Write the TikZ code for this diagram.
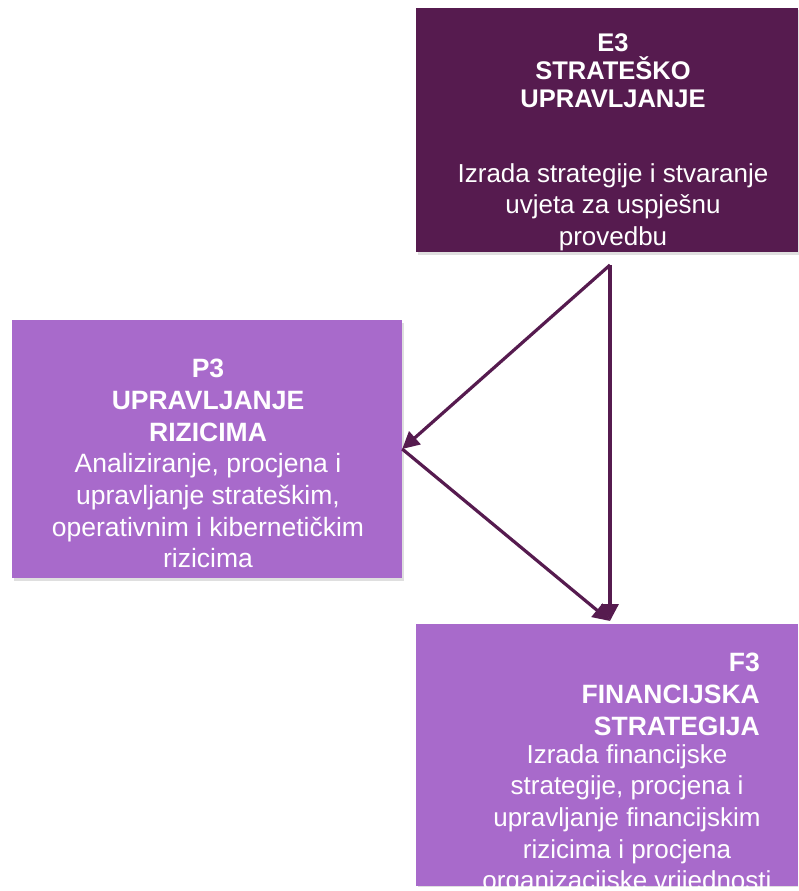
\documentclass[tikz,border=0pt]{standalone}
\usepackage{fontspec}
\setmainfont{Liberation Sans}
\usetikzlibrary{arrows.meta,shadows}
\definecolor{tamna}{HTML}{561B4F}
\definecolor{svijetla}{HTML}{A86ACB}

\begin{document}
\begin{tikzpicture}
      [ x=1pt, y=-1pt
      , box/.style={draw=none, inner sep=0pt,
          drop shadow={opacity=0.25, shadow xshift=1.5pt, shadow yshift=-2.5pt}}
      , strat/.style={box, fill=tamna}
      , proc/.style={box, fill=svijetla}
      , naslov/.style={text=white, inner sep=0pt, align=center,
          font=\fontsize{26.5}{32}\selectfont\bfseries}
      , opis/.style={text=white, inner sep=0pt, align=center,
          font=\fontsize{26}{31.7}\selectfont}
      , veza/.style={tamna, draw, line width=3.2pt,
          -{Triangle[length=17pt,width=17pt]}}
      ]
    \useasboundingbox (0,0) rectangle (798,891);

    \node[strat, minimum width=382pt, minimum height=244pt] (E3) at (607,130) {};
    \node[naslov, anchor=north, font=\fontsize{25.5}{28}\selectfont\bfseries]
      (E3naslov) at (613,33) {E3\\STRATEŠKO\\UPRAVLJANJE};
    \node[opis, anchor=north] (E3opis) at (613,163)
      {Izrada strategije i stvaranje\\uvjeta za uspješnu\\provedbu};

    \node[proc, minimum width=390pt, minimum height=258pt] (P3) at (207,449) {};
    \node[opis, anchor=north, font=\fontsize{26.5}{31.7}\selectfont]
      (P3opis) at (208,359)
      {\textbf{P3}\\\textbf{UPRAVLJANJE}\\\textbf{RIZICIMA}\\
       Analiziranje, procjena i\\upravljanje strateškim,\\
       operativnim i kibernetičkim\\rizicima};

    \begin{scope}
    \clip (416,624) rectangle (798,886);
    \node[proc, minimum width=382pt, minimum height=262pt] (F3) at (607,755) {};
    \node[naslov, align=right, anchor=north east] (F3naslov) at (760,653)
      {F3\\FINANCIJSKA\\STRATEGIJA};
    \node[opis, anchor=north] (F3opis) at (627,744)
      {Izrada financijske\\strategije, procjena i\\upravljanje financijskim\\
       rizicima i procjena\\organizacijske vrijednosti};
    \end{scope}

    \coordinate (vrh) at (610,265);
    \coordinate (dno) at (610,621);

    \path
    (vrh) edge[veza] (P3.east)
    (P3.east) edge[veza] (dno)
    (vrh) edge[veza] (dno);
\end{tikzpicture}
\end{document}
